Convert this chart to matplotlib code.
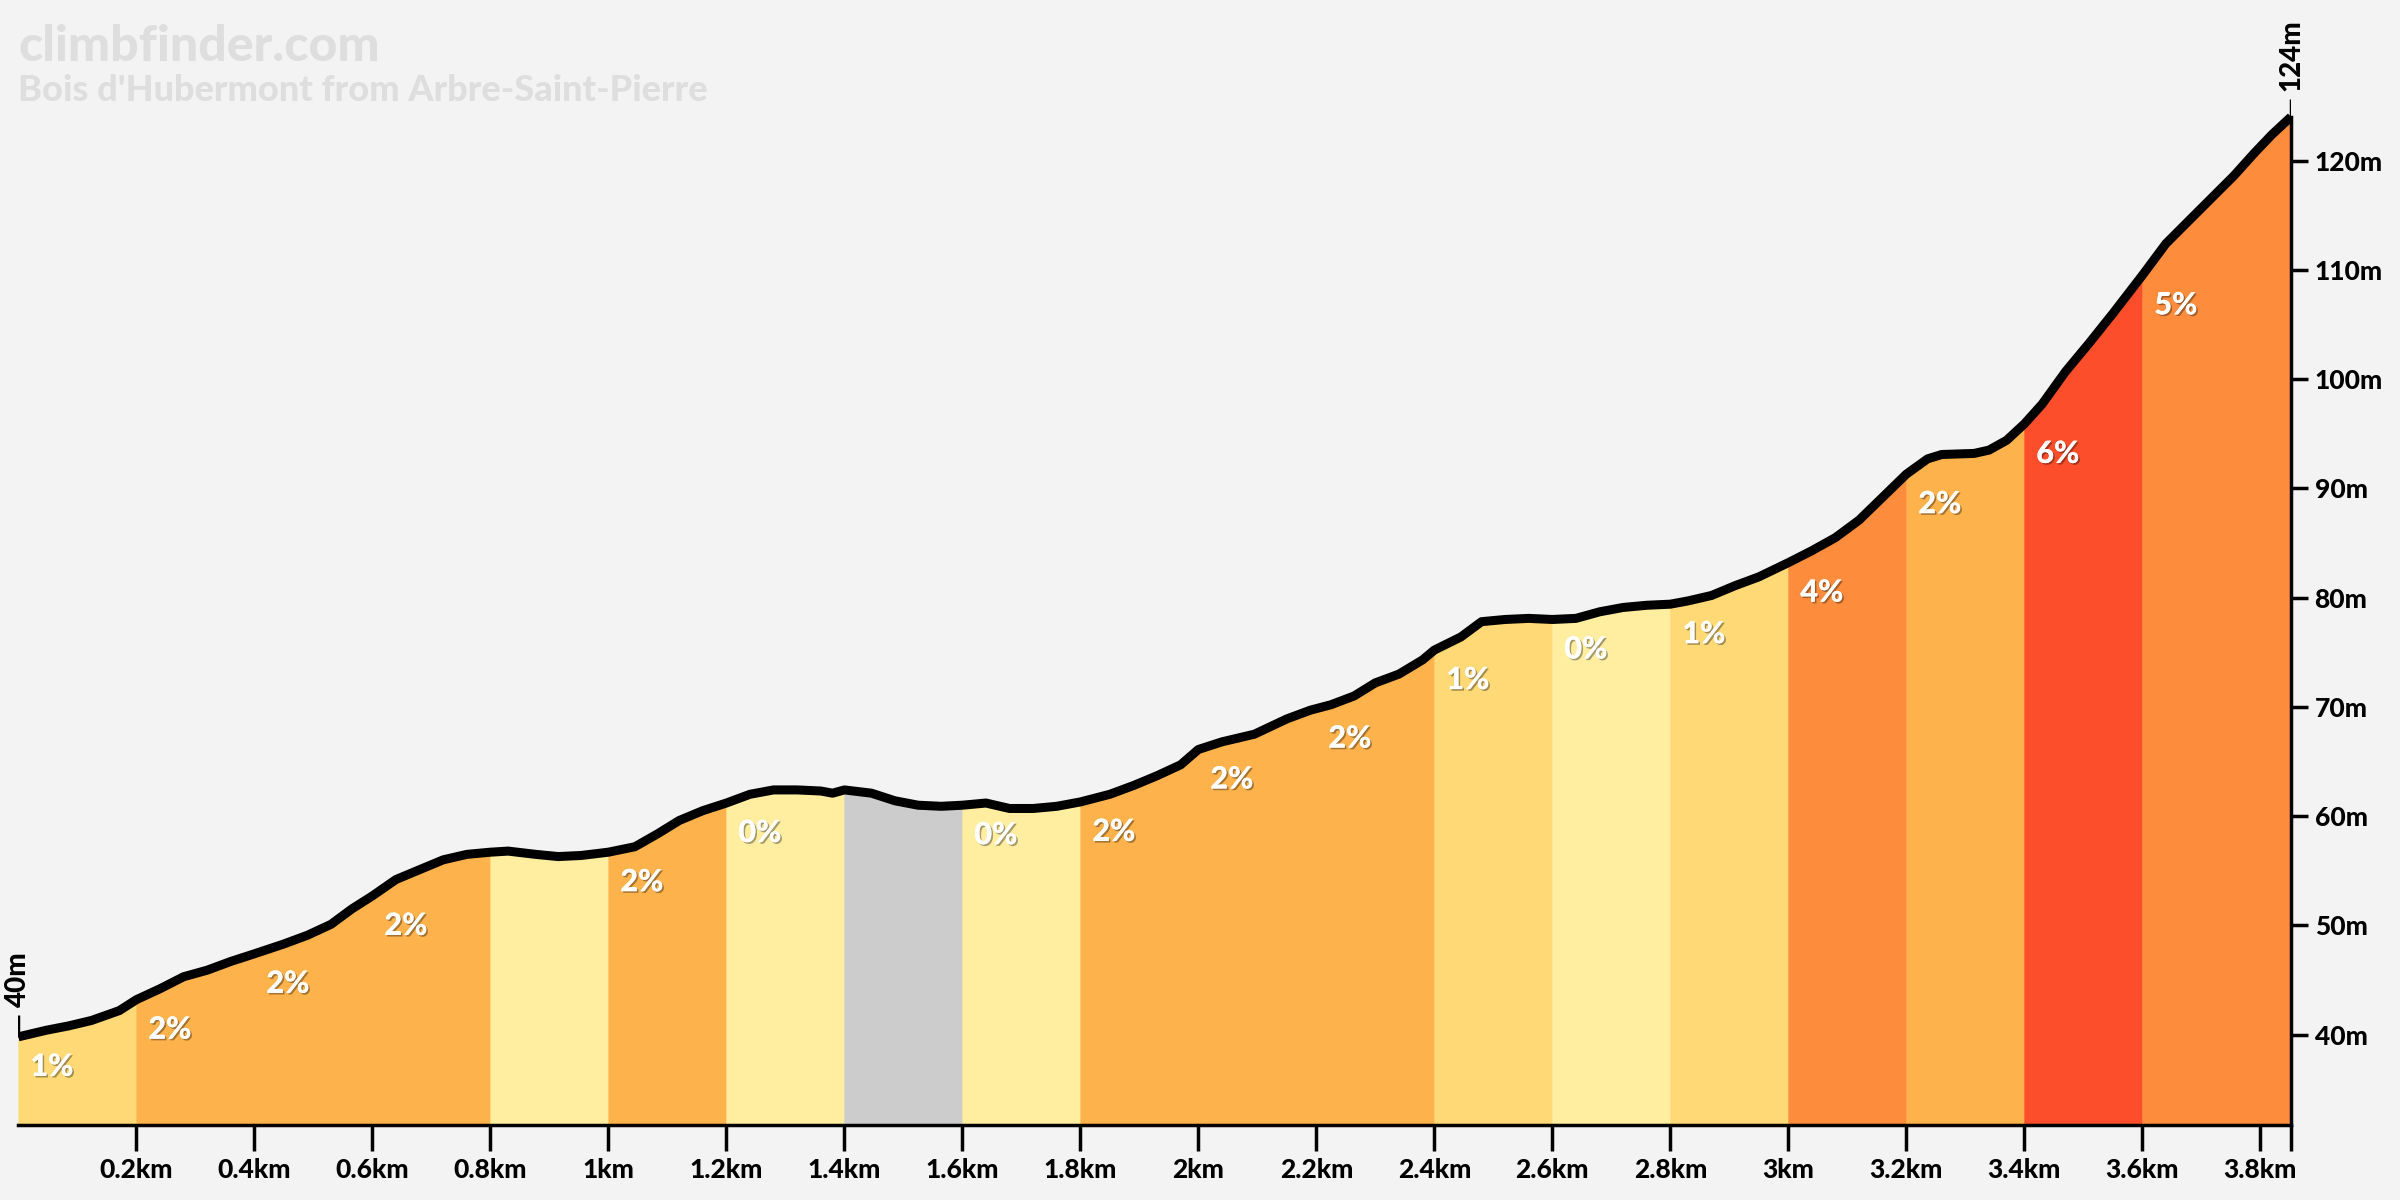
import numpy as np
import matplotlib.pyplot as plt
import matplotlib.patheffects as pe

# elevation profile
dist_km = [0.0, 0.047, 0.085, 0.124, 0.171, 0.2, 0.24, 0.28, 0.32, 0.36, 0.4,
           0.45, 0.49, 0.53, 0.565, 0.6, 0.64, 0.68, 0.72, 0.76, 0.8,
           0.83, 0.877, 0.915, 0.954, 1.0, 1.045, 1.084, 1.12, 1.16, 1.2,
           1.24, 1.28, 1.32, 1.36, 1.38, 1.4, 1.446, 1.486, 1.525, 1.564, 1.6,
           1.64, 1.68, 1.72, 1.76, 1.8, 1.85, 1.89, 1.93, 1.97, 2.0,
           2.04, 2.095, 2.15, 2.19, 2.225, 2.264, 2.3, 2.34, 2.38, 2.4,
           2.445, 2.48, 2.52, 2.56, 2.6, 2.64, 2.68, 2.72, 2.76, 2.8,
           2.83, 2.87, 2.91, 2.95, 3.0, 3.04, 3.08, 3.12, 3.16, 3.2,
           3.236, 3.26, 3.315, 3.34, 3.37, 3.4, 3.43, 3.47, 3.51, 3.55, 3.6,
           3.64, 3.677, 3.716, 3.755, 3.79, 3.82, 3.852]
elev_m = [39.8, 40.4, 40.8, 41.3, 42.2, 43.2, 44.2, 45.3, 45.9, 46.7, 47.4,
          48.3, 49.1, 50.1, 51.5, 52.7, 54.2, 55.1, 56.0, 56.5, 56.7,
          56.8, 56.5, 56.3, 56.4, 56.7, 57.2, 58.4, 59.6, 60.5, 61.2,
          62.0, 62.4, 62.4, 62.3, 62.1, 62.4, 62.1, 61.4, 61.0, 60.9, 61.0,
          61.2, 60.7, 60.7, 60.9, 61.3, 62.0, 62.8, 63.7, 64.7, 66.1,
          66.8, 67.5, 68.9, 69.7, 70.2, 71.0, 72.2, 73.0, 74.3, 75.2,
          76.4, 77.8, 78.0, 78.1, 78.0, 78.1, 78.7, 79.1, 79.3, 79.4,
          79.7, 80.2, 81.1, 81.9, 83.2, 84.3, 85.5, 87.1, 89.2, 91.3,
          92.7, 93.1, 93.2, 93.5, 94.4, 95.9, 97.7, 100.7, 103.3, 106.0, 109.5,
          112.4, 114.4, 116.5, 118.6, 120.7, 122.4, 124.0]

seg_start = [0.0, 0.2, 0.4, 0.6, 0.8, 1.0, 1.2, 1.4, 1.6, 1.8, 2.0, 2.2, 2.4,
             2.6, 2.8, 3.0, 3.2, 3.4, 3.6]
seg_end = seg_start[1:] + [3.852]
seg_labels = ['1%', '2%', '2%', '2%', '', '2%', '0%', '', '0%', '2%', '2%', '2%',
              '1%', '0%', '1%', '4%', '2%', '6%', '5%']
seg_colors = ['#fed976', '#feb24c', '#feb24c', '#feb24c', '#ffeda0', '#feb24c',
              '#ffeda0', '#cccccc', '#ffeda0', '#feb24c', '#feb24c', '#feb24c',
              '#fed976', '#ffeda0', '#fed976', '#fd8d3c', '#feb24c', '#fc4e2a',
              '#fd8d3c']

xticks_km = [0.2, 0.4, 0.6, 0.8, 1.0, 1.2, 1.4, 1.6, 1.8, 2.0, 2.2, 2.4, 2.6,
             2.8, 3.0, 3.2, 3.4, 3.6, 3.8]
xtick_labels = ['0.2km', '0.4km', '0.6km', '0.8km', '1km', '1.2km', '1.4km',
                '1.6km', '1.8km', '2km', '2.2km', '2.4km', '2.6km', '2.8km',
                '3km', '3.2km', '3.4km', '3.6km', '3.8km']
yticks_m = [40, 50, 60, 70, 80, 90, 100, 110, 120]
ytick_labels = ['40m', '50m', '60m', '70m', '80m', '90m', '100m', '110m', '120m']

site = 'climbfinder.com'
climb_name = "Bois d'Hubermont from Arbre-Saint-Pierre"

plt.rcParams['font.family'] = ['Lato', 'DejaVu Sans']
bg = '#f3f3f3'

d = np.array(dist_km)
el = np.array(elev_m)
ybot, ytop = 31.73, 134.7

fig = plt.figure(figsize=(24, 12), dpi=100, facecolor=bg)
ax = fig.add_axes([18.4 / 2400, 75 / 1200, (2291 - 18.4) / 2400, 1125 / 1200])
ax.set_facecolor(bg)
ax.set_xlim(d[0], d[-1])
ax.set_ylim(ybot, ytop)

# coloured gradient blocks
for s, e, c in zip(seg_start, seg_end, seg_colors):
    xs = np.r_[s, d[(d > s) & (d < e)], e]
    ys = np.interp(xs, d, el)
    ax.fill_between(xs, ys, ybot, color=c, lw=0.6, ec=c, zorder=1)

ax.plot(d, el, color='black', lw=6.5, solid_capstyle='butt',
        solid_joinstyle='round', zorder=3)

shadow = [pe.withSimplePatchShadow(offset=(1.2, -1.2), shadow_rgbFace='black', alpha=0.35),
          pe.Normal()]
for s, lab in zip(seg_start, seg_labels):
    if not lab:
        continue
    ax.annotate(lab, xy=(s, np.interp(s, d, el)), xytext=(12, -30),
                textcoords='offset pixels', ha='left', va='center',
                color='white', fontsize=22, fontweight='black',
                path_effects=shadow, zorder=4)

# start / end markers
ax.vlines(d[0], el[0], el[0] + 2.0, color='black', lw=2.5, zorder=3)
ax.annotate(f'{el[0]:.0f}m', xy=(d[0], el[0] + 2.0), xytext=(0, 8),
            textcoords='offset pixels', rotation=90, ha='center', va='bottom',
            fontsize=20, fontweight='black')
ax.vlines(d[-1], el[-1], el[-1] + 1.6, color='black', lw=2.5, zorder=3)
ax.annotate(f'{el[-1]:.0f}m', xy=(d[-1], el[-1] + 1.6), xytext=(0, 8),
            textcoords='offset pixels', rotation=90, ha='center', va='bottom',
            fontsize=20, fontweight='black')

ax.spines['top'].set_visible(False)
ax.spines['left'].set_visible(False)
ax.spines['bottom'].set_linewidth(2.5)
ax.spines['right'].set_linewidth(2.5)
ax.spines['right'].set_bounds(ybot, el[-1])

ax.set_xticks(xticks_km + [d[-1]])
ax.set_xticklabels(xtick_labels + [''])
ax.tick_params(axis='x', length=19, width=2.5, pad=5, labelsize=19)
ax.yaxis.tick_right()
ax.set_yticks(yticks_m)
ax.set_yticklabels(ytick_labels)
ax.tick_params(axis='y', length=12, width=2.5, pad=5, labelsize=19)
for t in ax.get_xticklabels() + ax.get_yticklabels():
    t.set_fontweight('black')

fig.text(18 / 2400, 1 - 61 / 1200, site, fontsize=36, fontweight='black',
         color='#dedede', ha='left', va='baseline')
fig.text(18 / 2400, 1 - 101 / 1200, climb_name, fontsize=26, fontweight='black',
         color='#dedede', ha='left', va='baseline')

fig.savefig('out.png', dpi=100, facecolor=bg)
